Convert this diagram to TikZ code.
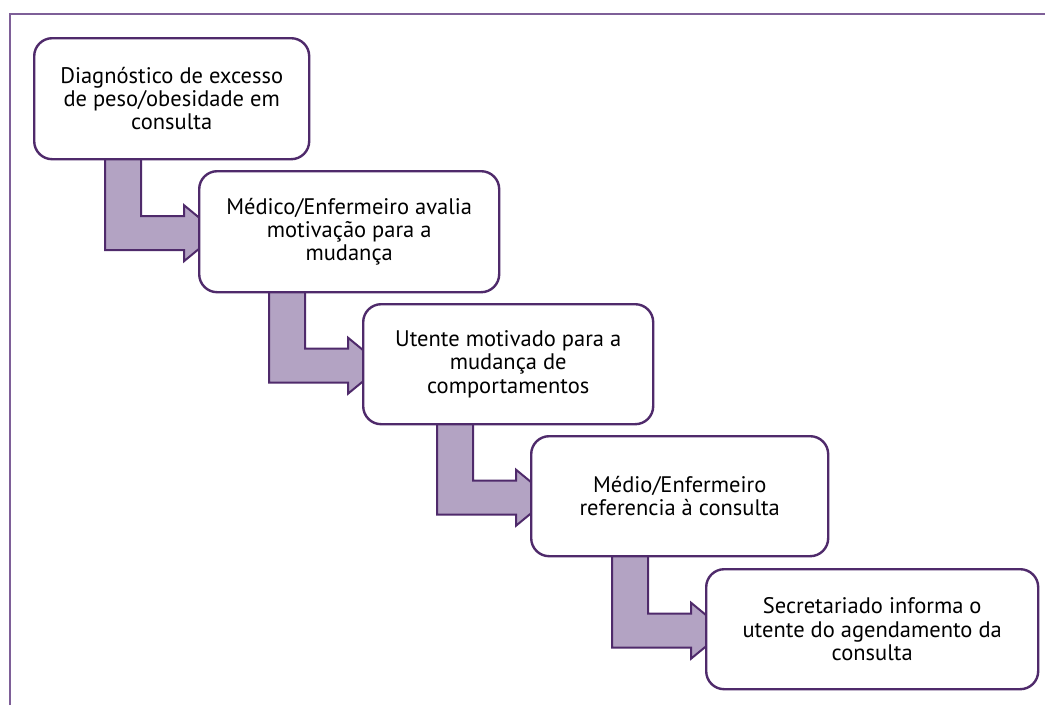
\documentclass[tikz,border=0pt]{standalone}
\usepackage{fontspec}
\setmainfont{PT Sans}
\usetikzlibrary{calc}
\definecolor{framecol}{HTML}{7E5F98}
\definecolor{boxline}{HTML}{4F2A6B}
\definecolor{arrfill}{HTML}{B3A3C3}
\tikzset{
  stepbox/.style={draw=boxline, line width=2.4pt, fill=white, rounded corners=18pt,
    anchor=north west, align=center, inner sep=0pt,
    font=\fontsize{22.5}{23.3}\selectfont, text=black},
  blockarr/.style={draw=boxline, line width=2pt, fill=arrfill, line join=miter}
}
\newcommand\flowarrow[2]{%
  \draw[blockarr] let \p1=(#1.south), \p2=(#2.west) in
    (\x2-93pt,\y1+2pt) -- (\x2-57pt,\y1+2pt) -- (\x2-57pt,\y2+15.5pt)
    -- (\x2-14pt,\y2+15.5pt) -- (\x2-14pt,\y2+26.5pt) -- (\x2+20pt,\y2-1.5pt)
    -- (\x2-14pt,\y2-29.5pt) -- (\x2-14pt,\y2-18.5pt) -- (\x2-93pt,\y2-18.5pt) -- cycle;}
\begin{document}
\begin{tikzpicture}[x=1pt,y=-1pt]
\useasboundingbox (0,0) rectangle (1045,705);
\fill[white] (0,0) rectangle (1045,705);
\draw[framecol, line width=2pt] (10,705) -- (10,14) -- (1045,14);
% invisible placeholders giving the anchors for the block arrows
\path (33,37)  node[stepbox, minimum width=275pt, minimum height=121pt, draw=none, fill=none] (b1) {};
\path (198,170) node[stepbox, minimum width=300pt, minimum height=121pt, draw=none, fill=none] (b2) {};
\path (362,303) node[stepbox, minimum width=290pt, minimum height=120pt, draw=none, fill=none] (b3) {};
\path (530,435) node[stepbox, minimum width=297pt, minimum height=120pt, draw=none, fill=none] (b4) {};
\path (705,568) node[stepbox, minimum width=332pt, minimum height=120pt, draw=none, fill=none] (b5) {};
\flowarrow{b1}{b2}
\flowarrow{b2}{b3}
\flowarrow{b3}{b4}
\flowarrow{b4}{b5}
\node[stepbox, minimum width=275pt, minimum height=121pt] (n1) at (33,37) {Diagnóstico de excesso\\de peso/obesidade em\\consulta};
\node[stepbox, minimum width=300pt, minimum height=121pt] (n2) at (198,170) {Médico/Enfermeiro avalia\\motivação para a\\mudança};
\node[stepbox, minimum width=290pt, minimum height=120pt] (n3) at (362,303) {Utente motivado para a\\mudança de\\comportamentos};
\node[stepbox, minimum width=297pt, minimum height=120pt] (n4) at (530,435) {Médio/Enfermeiro\\referencia à consulta};
\node[stepbox, minimum width=332pt, minimum height=120pt] (n5) at (705,568) {Secretariado informa o\\utente do agendamento da\\consulta};
\end{tikzpicture}
\end{document}
